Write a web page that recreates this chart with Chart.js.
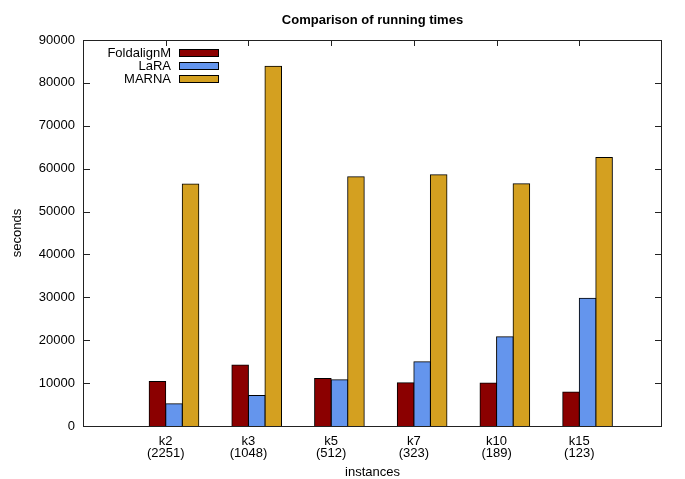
<!DOCTYPE html>
<html lang="en">
<head>
    <meta charset="UTF-8">
    <title>Comparison of running times</title>
    <script src="https://cdn.jsdelivr.net/npm/chart.js"></script>
    <style>
        html, body {
            margin: 0;
            padding: 0;
            background: white;
        }

        .chart-box {
            width: 685px;
            height: 479px;
        }
    </style>
</head>
<body>
    <div class="chart-box">
        <canvas id="timesChart"></canvas>
    </div>

    <script>
        // Data
        const categories = ['k2', 'k3', 'k5', 'k7', 'k10', 'k15'];
        const instanceCounts = ['(2251)', '(1048)', '(512)', '(323)', '(189)', '(123)'];
        const seriesNames = ['FoldalignM', 'LaRA', 'MARNA'];
        const foldalignM = [10400, 14200, 11100, 10100, 10000, 7900];
        const lara = [5200, 7100, 10800, 15000, 20800, 29800];
        const marna = [56400, 83900, 58100, 58600, 56500, 62600];
        const yTicks = [0, 10000, 20000, 30000, 40000, 50000, 60000, 70000, 80000, 90000];

        const seriesColors = ['#8b0000', '#6495ed', '#d4a020'];
        const FONT = 'Liberation Sans, Arial, Helvetica, sans-serif';

        // gnuplot histogram: clusters sit a little right of their tick
        const CLUSTER_SHIFT = 0.1;
        const toPoints = arr => arr.map((v, i) => ({ x: i + CLUSTER_SHIFT, y: v }));

        // Frame, inward tick marks and the legend, as gnuplot draws them
        const framePlugin = {
            id: 'frame',
            beforeDatasetsDraw(chart) {
                const { ctx, chartArea: a, scales } = chart;
                ctx.save();
                ctx.strokeStyle = '#222';
                ctx.lineWidth = 1;
                ctx.beginPath();
                yTicks.forEach(v => {
                    const y = Math.round(scales.y.getPixelForValue(v)) + 0.5;
                    ctx.moveTo(a.left, y);
                    ctx.lineTo(a.left + 7, y);
                    ctx.moveTo(a.right, y);
                    ctx.lineTo(a.right - 7, y);
                });
                categories.forEach((c, i) => {
                    const x = Math.round(scales.x.getPixelForValue(i)) + 0.5;
                    ctx.moveTo(x, a.top);
                    ctx.lineTo(x, a.top + 6);
                    ctx.moveTo(x, a.bottom);
                    ctx.lineTo(x, a.bottom - 6);
                });
                ctx.stroke();
                ctx.restore();
            },
            afterDatasetsDraw(chart) {
                const { ctx, chartArea: a } = chart;
                ctx.save();
                ctx.strokeStyle = '#222';
                ctx.lineWidth = 1;
                ctx.strokeRect(Math.round(a.left) + 0.5, Math.round(a.top) + 0.5,
                    Math.round(a.right - a.left) - 1, Math.round(a.bottom - a.top));

                // legend: text right aligned, swatch to its right
                ctx.font = '13px ' + FONT;
                ctx.textAlign = 'right';
                ctx.textBaseline = 'middle';
                chart.data.datasets.forEach((ds, i) => {
                    const y = 52.5 + i * 13;
                    ctx.fillStyle = '#000';
                    ctx.fillText(ds.label, 171, y + 0.5);
                    ctx.fillStyle = ds.backgroundColor;
                    ctx.fillRect(179.5, y - 3, 39, 7);
                    ctx.strokeStyle = '#000';
                    ctx.strokeRect(179.5, y - 3, 39, 7);
                });
                ctx.restore();
            }
        };

        const ctx = document.getElementById('timesChart').getContext('2d');

        new Chart(ctx, {
            type: 'bar',
            data: {
                datasets: [
                    {
                        label: seriesNames[0],
                        data: toPoints(foldalignM),
                        backgroundColor: seriesColors[0]
                    },
                    {
                        label: seriesNames[1],
                        data: toPoints(lara),
                        backgroundColor: seriesColors[1]
                    },
                    {
                        label: seriesNames[2],
                        data: toPoints(marna),
                        backgroundColor: seriesColors[2]
                    }
                ]
            },
            options: {
                responsive: true,
                maintainAspectRatio: false,
                animation: false,
                categoryPercentage: 0.6,
                barPercentage: 1.0,
                elements: {
                    bar: {
                        borderColor: '#000',
                        borderWidth: 1,
                        inflateAmount: 0.5
                    }
                },
                layout: {
                    padding: { left: 0, right: 23, top: 0, bottom: 0 }
                },
                plugins: {
                    legend: { display: false },
                    title: { display: false }
                },
                scales: {
                    x: {
                        type: 'linear',
                        offset: false,
                        min: -1,
                        max: 6,
                        grid: { display: false, drawTicks: false },
                        border: { display: false },
                        afterBuildTicks: s => {
                            s.ticks = [-1, 0, 1, 2, 3, 4, 5, 6].map(v => ({ value: v }));
                        },
                        ticks: {
                            autoSkip: false,
                            maxRotation: 0,
                            minRotation: 0,
                            padding: 9,
                            color: '#000',
                            font: { family: FONT, size: 13, lineHeight: 0.97 },
                            callback: v => (v >= 0 && v < categories.length)
                                ? [categories[v], instanceCounts[v]] : ''
                        },
                        title: {
                            display: true,
                            text: 'instances',
                            color: '#000',
                            font: { family: FONT, size: 13, lineHeight: 1 },
                            padding: { top: 0, bottom: 0 }
                        },
                        afterFit: s => { s.height = 53; }
                    },
                    // top axis only carries the chart title, centred over the plot
                    top: {
                        type: 'linear',
                        position: 'top',
                        min: 0,
                        max: 1,
                        grid: { display: false, drawTicks: false },
                        border: { display: false },
                        ticks: { display: false },
                        title: {
                            display: true,
                            text: 'Comparison of running times',
                            color: '#000',
                            font: { family: FONT, size: 13, weight: 'bold', lineHeight: 1.2 },
                            padding: { top: 12.5, bottom: 0 }
                        },
                        afterFit: s => { s.height = 40; }
                    },
                    y: {
                        min: 0,
                        max: 90000,
                        grid: { display: false, drawTicks: false },
                        border: { display: false },
                        afterBuildTicks: s => { s.ticks = yTicks.map(v => ({ value: v })); },
                        ticks: {
                            padding: 8,
                            color: '#000',
                            font: { family: FONT, size: 13 },
                            callback: v => String(v)
                        },
                        title: {
                            display: true,
                            text: 'seconds',
                            color: '#000',
                            font: { family: FONT, size: 13, lineHeight: 1 },
                            padding: { top: 11, bottom: 0 }
                        },
                        afterFit: s => { s.width = 83; }
                    }
                }
            },
            plugins: [framePlugin]
        });
    </script>
</body>
</html>
